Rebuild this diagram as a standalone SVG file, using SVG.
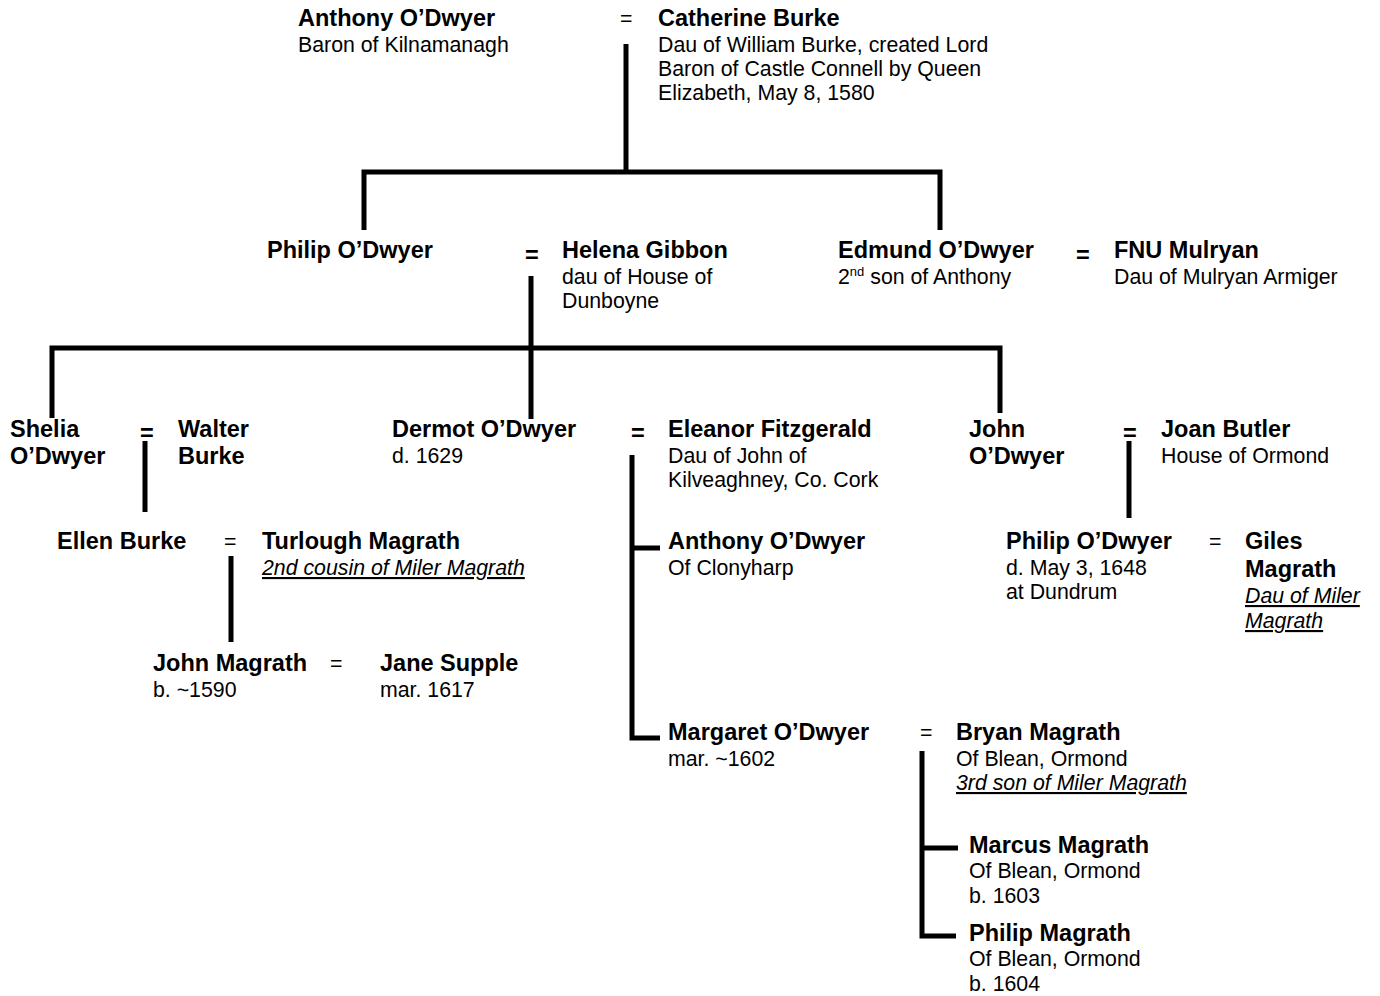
<svg xmlns="http://www.w3.org/2000/svg" width="1380" height="996" viewBox="0 0 1380 996">
<style>
text{font-family:"Liberation Sans",Arial,sans-serif;fill:#000}
.n{font-weight:bold;font-size:23.5px}
.d{font-size:21.3px}
.i{font-size:21.3px;font-style:italic;text-decoration:underline}
.eq{font-size:21.3px}
.eqb{font-weight:bold;font-size:23.5px}
.ln{stroke:#000;stroke-width:5;fill:none;stroke-linejoin:miter;stroke-linecap:butt}
</style>
<rect width="1380" height="996" fill="#fff"/>
<g id="connectors">
<path class="ln" d="M626,44V172"/>
<path class="ln" d="M364,230V172H940V230"/>
<path class="ln" d="M531,276V419"/>
<path class="ln" d="M52,418V348H1000V413"/>
<path class="ln" d="M145,441V512"/>
<path class="ln" d="M231,556V642"/>
<path class="ln" d="M632,455V738H660M632,548H660"/>
<path class="ln" d="M922,751V936H956M922,848H958"/>
<path class="ln" d="M1129,441V518"/>
</g>
<g id="anthony">
<text class="n" x="298" y="26">Anthony O’Dwyer</text>
<text class="d" x="298" y="52">Baron of Kilnamanagh</text>
</g>
<text class="eq" x="620" y="26">=</text>
<g id="catherine">
<text class="n" x="658" y="26">Catherine Burke</text>
<text class="d" x="658" y="52">Dau of William Burke, created Lord</text>
<text class="d" x="658" y="76">Baron of Castle Connell by Queen</text>
<text class="d" x="658" y="100">Elizabeth, May 8, 1580</text>
</g>
<g id="philip">
<text class="n" x="267" y="258">Philip O’Dwyer</text>
</g>
<text class="eqb" x="525" y="263">=</text>
<g id="helena">
<text class="n" x="562" y="258">Helena Gibbon</text>
<text class="d" x="562" y="284">dau of House of</text>
<text class="d" x="562" y="308">Dunboyne</text>
</g>
<g id="edmund">
<text class="n" x="838" y="258">Edmund O’Dwyer</text>
<text class="d" x="838" y="284">2<tspan font-size="13" dy="-8">nd</tspan><tspan dy="8"> son of Anthony</tspan></text>
</g>
<text class="eqb" x="1076" y="263">=</text>
<g id="fnu">
<text class="n" x="1114" y="258">FNU Mulryan</text>
<text class="d" x="1114" y="284">Dau of Mulryan Armiger</text>
</g>
<g id="shelia">
<text class="n" x="10" y="437">Shelia</text>
<text class="n" x="10" y="464">O’Dwyer</text>
</g>
<text class="eqb" x="140" y="441">=</text>
<g id="walter">
<text class="n" x="178" y="437">Walter</text>
<text class="n" x="178" y="464">Burke</text>
</g>
<g id="dermot">
<text class="n" x="392" y="437">Dermot O’Dwyer</text>
<text class="d" x="392" y="463">d. 1629</text>
</g>
<text class="eqb" x="631" y="441">=</text>
<g id="eleanor">
<text class="n" x="668" y="437">Eleanor Fitzgerald</text>
<text class="d" x="668" y="463">Dau of John of</text>
<text class="d" x="668" y="487">Kilveaghney, Co. Cork</text>
</g>
<g id="john">
<text class="n" x="969" y="437">John</text>
<text class="n" x="969" y="464">O’Dwyer</text>
</g>
<text class="eqb" x="1123" y="441">=</text>
<g id="joan">
<text class="n" x="1161" y="437">Joan Butler</text>
<text class="d" x="1161" y="463">House of Ormond</text>
</g>
<g id="ellen">
<text class="n" x="57" y="549">Ellen Burke</text>
</g>
<text class="eq" x="224" y="549">=</text>
<g id="turlough">
<text class="n" x="262" y="549">Turlough Magrath</text>
<text class="i" x="262" y="575">2nd cousin of Miler Magrath</text>
</g>
<g id="anthony2">
<text class="n" x="668" y="549">Anthony O’Dwyer</text>
<text class="d" x="668" y="575">Of Clonyharp</text>
</g>
<g id="philip2">
<text class="n" x="1006" y="549">Philip O’Dwyer</text>
<text class="d" x="1006" y="575">d. May 3, 1648</text>
<text class="d" x="1006" y="599">at Dundrum</text>
</g>
<text class="eq" x="1209" y="549">=</text>
<g id="giles">
<text class="n" x="1245" y="549">Giles</text>
<text class="n" x="1245" y="577">Magrath</text>
<text class="i" x="1245" y="603">Dau of Miler</text>
<text class="i" x="1245" y="628">Magrath</text>
</g>
<g id="johnmagrath">
<text class="n" x="153" y="671">John Magrath</text>
<text class="d" x="153" y="697">b. ~1590</text>
</g>
<text class="eq" x="330" y="671">=</text>
<g id="jane">
<text class="n" x="380" y="671">Jane Supple</text>
<text class="d" x="380" y="697">mar. 1617</text>
</g>
<g id="margaret">
<text class="n" x="668" y="740">Margaret O’Dwyer</text>
<text class="d" x="668" y="766">mar. ~1602</text>
</g>
<text class="eq" x="920" y="740">=</text>
<g id="bryan">
<text class="n" x="956" y="740">Bryan Magrath</text>
<text class="d" x="956" y="766">Of Blean, Ormond</text>
<text class="i" x="956" y="790">3rd son of Miler Magrath</text>
</g>
<g id="marcus">
<text class="n" x="969" y="853">Marcus Magrath</text>
<text class="d" x="969" y="878">Of Blean, Ormond</text>
<text class="d" x="969" y="903">b. 1603</text>
</g>
<g id="philipmagrath">
<text class="n" x="969" y="941">Philip Magrath</text>
<text class="d" x="969" y="966">Of Blean, Ormond</text>
<text class="d" x="969" y="991">b. 1604</text>
</g>
</svg>
